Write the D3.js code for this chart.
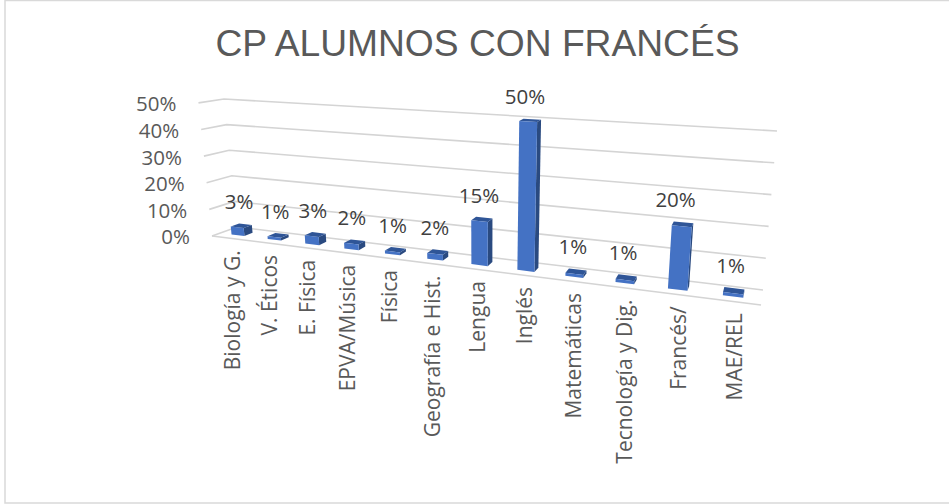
<!DOCTYPE html>
<html><head><meta charset="utf-8">
<script src="https://cdn.jsdelivr.net/npm/d3@7/dist/d3.min.js"></script>
<style>html,body{margin:0;padding:0;background:#fff}svg{display:block}</style>
</head><body><div id="c"></div>
<script>
const categories = ["Biología y G.","V. Éticos","E. Física","EPVA/Música","Física","Geografía e Hist.","Lengua","Inglés","Matemáticas","Tecnología y Dig.","Francés/","MAE/REL"];
const values = [3,1,3,2,1,2,15,50,1,1,20,1];
const valueTicks = [0,10,20,30,40,50];
const W = 949, H = 504;
const svg = d3.select("#c").append("svg").attr("width",W).attr("height",H);
const font = "'Open Sans',sans-serif", grey = "#595959";

// chart frame
svg.append("rect").attr("x",5).attr("y",.5).attr("width",W).attr("height",H-1.5)
  .attr("fill","#fff").attr("stroke","#d9d9d9").attr("stroke-width",1.5);

// scales: category band -> perspective position -> screen, via corner scales
const band = d3.scaleBand().domain(categories).range([0,1]).paddingInner(.64).paddingOuter(.32);
const persp = t => t/(1.286-.286*t);
const val = d3.scaleLinear().domain([0,50]).range([0,1]);
const frontX = d3.scaleLinear().domain([0,1]).range([212,761]);
const frontY = d3.scaleLinear().domain([0,1]).range([236,305]);
const backX  = d3.scaleLinear().domain([0,1]).range([237,763]);
const backY  = d3.scaleLinear().domain([0,1]).range([227,290]);
const riseX  = d3.scaleLinear().domain([0,1]).range([-13,14]);
const riseY  = d3.scaleLinear().domain([0,1]).range([128,159]);
const depthGrow = d3.scaleLinear().domain([0,1]).range([1.04,1]);
function project(u,v,d){
  const k = val(v)*depthGrow(d);
  return [d3.interpolateNumber(frontX(u),backX(u))(d)+riseX(u)*k,
          d3.interpolateNumber(frontY(u),backY(u))(d)-riseY(u)*k];
}
const line = d3.line();

// gridlines
const g = svg.append("g").attr("fill","none").attr("stroke","#d4d4d4").attr("stroke-width",1.6);
valueTicks.forEach(t=>{
  const pl = project(0,t,0), bl = project(0,t,1), br = project(1,t,1);
  g.append("path").attr("d",line([pl,bl,br]));
});
g.append("path").attr("d",line([project(0,0,0),project(1,0,0)]));

// value-axis labels
svg.append("g").selectAll("text").data(valueTicks).join("text")
  .attr("x",t=>project(0,t,0)[0]-22).attr("y",t=>project(0,t,0)[1]+3)
  .attr("text-anchor","end").attr("dominant-baseline","middle")
  .attr("font-family",font).attr("font-size",20.5).attr("fill",grey).text(t=>t+"%");

// bars
const D0=.33, D1=.67;
const bars = svg.append("g");
categories.forEach((c,i)=>{
  const v = values[i];
  const a = persp(band(c)), b = persp(band(c)+band.bandwidth());
  const poly=(pts,fill)=>bars.append("path").attr("d",line(pts)+"Z").attr("fill",fill);
  poly([project(b,0,D0),project(b,0,D1),project(b,v,D1),project(b,v,D0)],"#2a4a80");
  poly([project(a,v,D0),project(b,v,D0),project(b,v,D1),project(a,v,D1)],"#2f5597");
  poly([project(a,0,D0),project(b,0,D0),project(b,v,D0),project(a,v,D0)],"#4472c4");
});

// data labels
svg.append("g").selectAll("text").data(categories).join("text")
  .attr("x",c=>project(persp(band(c)+band.bandwidth()/2),0,.5)[0]-3)
  .attr("y",(c,i)=>project(persp(band(c)+band.bandwidth()/2),values[i],D1)[1]-15)
  .attr("text-anchor","middle").attr("font-family",font).attr("font-size",20.5).attr("fill","#404040")
  .text((c,i)=>values[i]+"%");

// category labels
svg.append("g").selectAll("text").data(categories).join("text")
  .attr("transform",c=>{
    const u = persp(band(c)+band.bandwidth()/2);
    return `translate(${frontX(u)+10},${frontY(u)+12}) rotate(-90)`;
  })
  .attr("text-anchor","end").attr("font-family",font).attr("font-size",21).attr("fill",grey).text(c=>c);

// title
svg.append("text").attr("x",477.5).attr("y",56).attr("text-anchor","middle")
  .attr("font-family","'Liberation Sans',Arial,sans-serif").attr("font-size",37.2).attr("fill",grey)
  .text("CP ALUMNOS CON FRANCÉS");
</script></body></html>
